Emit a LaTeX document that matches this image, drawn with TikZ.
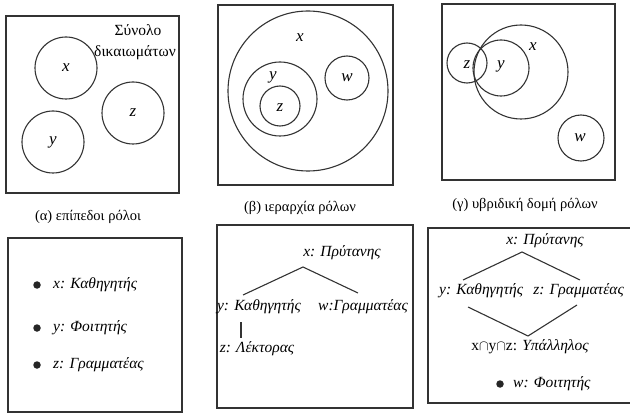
\documentclass[tikz,border=0pt]{standalone}
\usepackage{fontspec}
\setmainfont{Liberation Serif}
\begin{document}
\begin{tikzpicture}[x=1pt,y=-1pt,
  ink/.style={draw=black!80, line width=1.1pt},
  lbl/.style={font=\fontsize{17}{19}\selectfont\itshape, inner sep=0pt},
  captxt/.style={font=\fontsize{14.5}{16}\selectfont, inner sep=0pt},
  itm/.style={font=\fontsize{15.5}{17}\selectfont\itshape, inner sep=0pt},
  bulletdot/.style={circle, fill=black!85, inner sep=0pt, minimum size=7.5pt}]
\useasboundingbox (0,0) rectangle (630,417);
% ---------- (a) top ----------
\draw[ink] (6,16) rectangle (179,193);
\draw[ink] (66,68) circle[radius=31];
\draw[ink] (133,113) circle[radius=31];
\draw[ink] (53,142) circle[radius=31];
\node[lbl] (ax) at (66,68) {x};
\node[lbl] (az) at (133,113) {z};
\node[lbl] (ay) at (53,142) {y};
\node[captxt, font=\fontsize{15.5}{17}\selectfont] (set1) at (138,30) {Σύνολο};
\node[captxt, font=\fontsize{15.5}{17}\selectfont] (set2) at (135,53) {δικαιωμάτων};
\node[captxt] (capa) at (88,217) {(α) επίπεδοι ρόλοι};
% ---------- (b) top ----------
\draw[ink] (218,5) rectangle (393,185);
\draw[ink] (308,91) circle[radius=80];
\draw[ink] (280,99) circle[radius=37];
\draw[ink] (280,106) circle[radius=20];
\draw[ink] (347,78) circle[radius=22];
\node[lbl] (bx) at (300,38) {x};
\node[lbl] (by) at (273,77) {y};
\node[lbl] (bz) at (280,108) {z};
\node[lbl] (bw) at (347,78) {w};
\node[captxt] (capb) at (300,208) {(β) ιεραρχία ρόλων};
% ---------- (c) top ----------
\draw[ink] (442,4) rectangle (615,180);
\draw[ink] (521,72) circle[radius=47];
\draw[ink] (501,68) circle[radius=28];
\draw[ink] (467,63) circle[radius=20];
\draw[ink] (581,138) circle[radius=23];
\node[lbl] (cx) at (533,47) {x};
\node[lbl] (cy) at (501,66) {y};
\node[lbl] (cz) at (467,65) {z};
\node[lbl] (cw) at (580,138) {w};
\node[captxt] (capc) at (525,205) {(γ) υβριδική δομή ρόλων};
% ---------- (a) bottom ----------
\draw[ink] (8,238) rectangle (182,412);
\node[bulletdot] (d1) at (37,285) {};
\node[bulletdot] (d2) at (37,328) {};
\node[bulletdot] (d3) at (37,365) {};
\node[itm, anchor=west] (t1) at (53,285) {x: Καθηγητής};
\node[itm, anchor=west] (t2) at (53,328) {y: Φοιτητής};
\node[itm, anchor=west] (t3) at (53,365) {z: Γραμματέας};
% ---------- (b) bottom ----------
\draw[ink] (217,225) rectangle (413,408);
\node[itm] (hx) at (342,253) {x: Πρύτανης};
\node[itm] (hy) at (259,307) {y: Καθηγητής};
\node[itm] (hw) at (363,307) {w:Γραμματέας};
\node[itm] (hz) at (257,349) {z: Λέκτορας};
\coordinate (hap) at (303,267);
\coordinate (hl) at (243,295);
\coordinate (hr) at (358,293);
\coordinate (hv1) at (241,322);
\coordinate (hv2) at (241,338);
\draw[ink] (hl) -- (hap) -- (hr);
\draw[ink] (hv1) -- (hv2);
% ---------- (c) bottom ----------
\draw[ink] (630,228) -- (428,228) -- (428,403) -- (630,403);
\node[itm] (gx) at (545,241) {x: Πρύτανης};
\node[itm, anchor=west] (gy) at (439,291) {y: Καθηγητής};
\node[itm, anchor=east] (gz) at (624,291) {z: Γραμματέας};
\node[itm] (gi) at (530,347) {\upshape x$\cap$y$\cap$z: \itshape Υπάλληλος};
\node[bulletdot] (gd) at (500,384) {};
\node[itm, anchor=west] (gw) at (513,384) {w: Φοιτητής};
\coordinate (gap) at (522,252);
\coordinate (gl) at (463,280);
\coordinate (gr) at (580,280);
\coordinate (gbl) at (468,307);
\coordinate (gbot) at (528,336);
\coordinate (gbr) at (577,305);
\draw[ink] (gl) -- (gap) -- (gr);
\draw[ink] (gbl) -- (gbot) -- (gbr);
\end{tikzpicture}
\end{document}
